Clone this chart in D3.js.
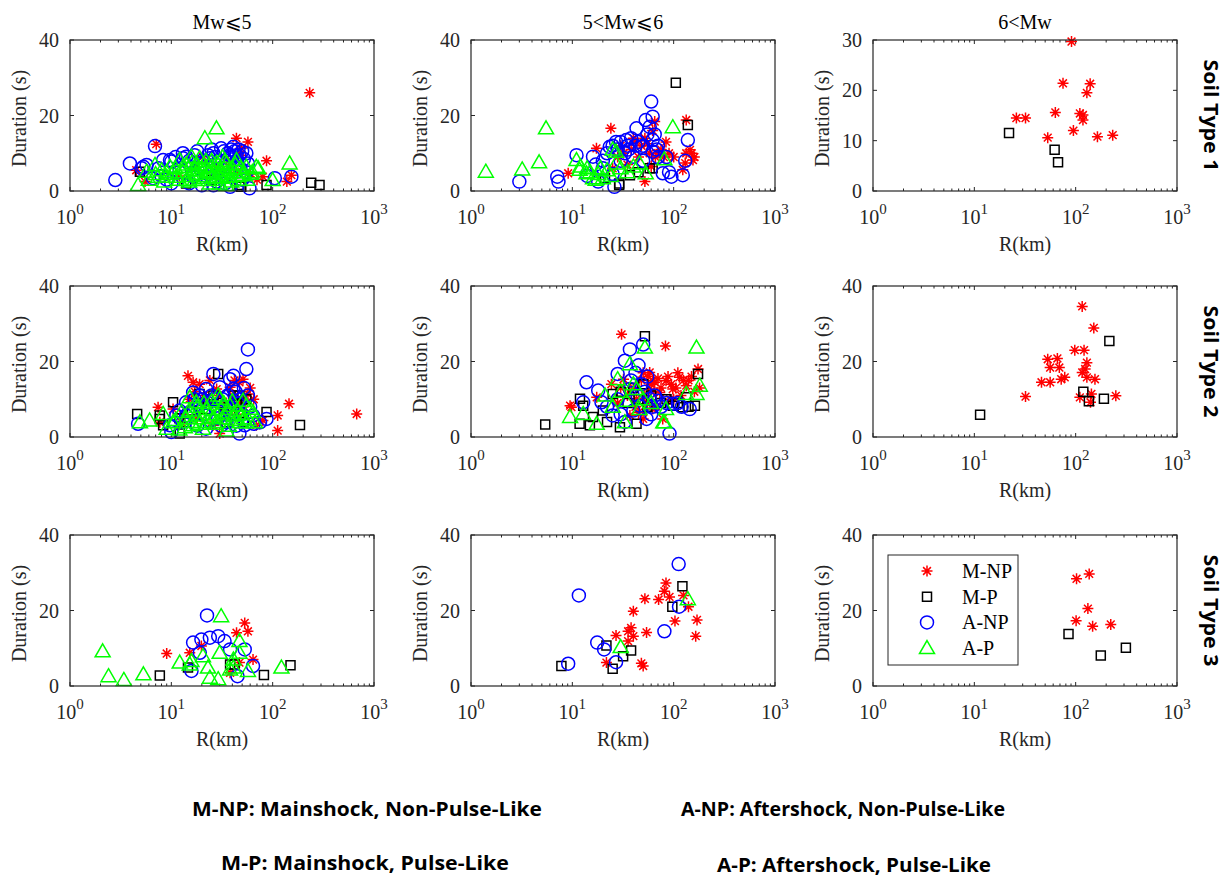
<!DOCTYPE html>
<html>
<head>
<meta charset="utf-8">
<script src="https://cdn.jsdelivr.net/npm/d3@7"></script>
<style>
  body { margin: 0; background: #fff; }
  svg { display: block; }
</style>
</head>
<body>
<svg id="chart" width="1230" height="880"></svg>
<script>
// row / column headings
const soilTypes = ["Soil Type 1", "Soil Type 2", "Soil Type 3"];
const magBins = ["Mw\u2A7D5", "5<Mw\u2A7D6", "6<Mw"];
const seriesNames = ["M-NP", "M-P", "A-NP", "A-P"];
const yMaxes = [[40, 40, 30], [40, 40, 40], [40, 40, 40]];
const xTickExps = [0, 1, 2, 3];
const notes = [
  "M-NP: Mainshock, Non-Pulse-Like", "A-NP: Aftershock, Non-Pulse-Like",
  "M-P: Mainshock, Pulse-Like", "A-P: Aftershock, Pulse-Like"
];

// [R (km), duration (s)]

// Soil type 1
const s1m5_mnp = [[232,26.0],[7.1,12.4],[43.9,14],[57,13],[87,8],[153,4.2],[138,2.5],[4.5,5.5],[47,10.4],[49,11.3],[49,9.5],[80,3.8],[5.5,2.5],[20.5,9.1],[28,6],[35,8.5],[60,4.5],[70,3],[12,4],[17,6.5],[38,7],[44,5]];
const s1m5_mp = [[240,2.2],[290,1.6],[87,1.6],[47,1.6],[4.9,5.1],[49,1.1],[25,3],[14,2]];
const s1m5_anp = [[2.8,2.9],[3.9,7.3],[5.3,6.4],[5.1,6],[5.7,6.9],[6.9,11.9],[8.3,8.2],[9.7,8.2],[10,7.8],[13,8.7],[14,9.1],[26,10],[31,11.3],[41,11.7],[38,9.5],[47,9.5],[55,10],[57,7.3],[59,0.7],[38,1.1],[105,3.4],[153,3.8],[6.6,3.4],[19,6],[24,8.7],[44,5.1],[31,6],[16.4,3.8],[40,9.1],[9,3],[12,5],[22,4],[28,2.5],[50,3],[35,6.5],[45,7],
  [11,9],[13,10],[15,8],[17,9.5],[18,10.5],[20,8],[23,9.5],[25,11],[27,9],[29,8],[33,10.5],[36,10],[39,11],[42,10.5],[44,9.5],[46,11],[50,10.5],[52,8.5],[48,6],[55,5],[34,2],[26,1.5],[20,1.5],[15,2],[10,2],[7.5,6],[8,4]];
const s1m5_ap = [[27.9,16.6],[21.4,14],[147,7.3],[4.7,1.6],[100,2.9],[69,6.4],[6.9,6.9],[9,3.8],[12.1,8.2],[15.8,9.1],[19,8.7],[35,7.3],[44,8.2],[55,6.4],[72,6],[61,4.6],[7.4,3.8],[11.2,3.8],[14,2.9],[17.5,4.6],[20.5,2.9],[26,3.8],[30,2],[38,3.8],[47,2.9],[13,6.4],[22,6.4],[29,6.9],[5.7,5.1],[9.7,6.4],[15,2.5],[35,1.6],[51,4.2],[8,5.5],[11,6],[18,5.5],[24,5],[33,4.5],[40,6],[16,7.5],[25,8],[32,9],
  [10,4.5],[12,3],[13,5],[14,7],[15,4],[16,5.5],[17,3],[18,7],[19,4],[20,6],[21,3.5],[22,8],[23,5],[24,2],[25,6.5],[26,5],[27,3],[28,7.5],[29,4.5],[30,5.5],[31,3.5],[33,6],[34,8],[36,4],[37,5.5],[39,2.5],[42,5],[43,7],[46,4],[48,6],[52,5],[56,3],[63,5],[9,5],[8.5,2.5],[7,4.5],[6,3]];

const s1m6_mnp = [[24,16.6],[17.3,11.3],[9.1,4.7],[65,18.4],[84,13],[52,2.5],[133,18.8],[133,10],[145,10.9],[155,8.2],[130,7.4],[123,5.6],[30,12],[40,14],[45,9],[55,12.5],[60,6.5],[35,7],[70,10],[25,6],
  [28,9],[32,10],[38,11],[42,13],[48,12],[52,14],[58,10],[62,16],[66,9],[75,11],[80,9],[90,10],[100,9],[150,10],[160,9]];
const s1m6_mp = [[105,28.7],[138,17.5],[29,2],[62,6],[37,4.2],[21,3.4],[58,6],[29,1.6],[45,5]];
const s1m6_anp = [[3,2.5],[7.1,3.8],[7.3,2.5],[11,9.5],[16,9.1],[23.4,11.7],[27,13],[34,13.5],[43,16.6],[53,18.8],[60,23.7],[62,19.7],[62,13.5],[62,10.4],[78,4.7],[95,3.8],[26,1.1],[40,9.1],[48,11.7],[138,13.5],[123,4.2],[20,6],[30,8],[14,4],[18,2.5],[25,4.5],[36,11],[50,8],[70,12],
  [22,10],[25,12],[28,11],[30,13],[33,10],[35,12],[38,14],[42,12],[45,13],[50,12],[55,15],[58,17],[65,15],[68,11],[70,9],[85,9],[90,5],[130,8],[20,8],[17,7]];
const s1m6_ap = [[1.4,5.1],[3.2,5.7],[4.7,7.6],[5.5,16.6],[98,16.9],[11,8.2],[27,10.4],[27,7.3],[46,7.3],[53,4.7],[81,8.4],[13.8,4.7],[16,3.4],[20,3.4],[11.8,5.6],[14,6],[18,4.5],[22,5.5],[30,6],
  [12,6.5],[15,5],[17,3],[19,6],[24,4],[25,11],[35,5],[40,6.5]];

const s1m7_mnp = [[91,29.7],[75,21.4],[139,21.3],[129,19.5],[26,14.5],[32,14.5],[63,15.6],[110,15.4],[118,15.1],[118,14.1],[95,12],[53,10.6],[164,10.8],[232,11.1]];
const s1m7_mp = [[22,11.5],[62,8.2],[67,5.7]];

// Soil type 2
const s2m5_mnp = [[14.6,16.2],[16.4,14.5],[7.4,7.9],[145,8.8],[112,5.7],[112,1.7],[51,15.3],[30,0.9],[675,6.1],[19,14],[28,12.7],[38,13.2],[47,14.5],[57,11.4],[47,9.2],[7.7,3.9],[10.4,7.4],[12.6,3.9],[26,3.1],[69,3.1],[80,4.4],[22,9],[33,7],
  [13,6],[15,10],[17,12],[18,5],[21,11],[24,15],[25,9],[29,11],[35,9],[40,11],[42,15],[44,6],[52,8],[60,13],[65,10]];
const s2m5_mp = [[4.6,6.1],[29,16.7],[87,6.6],[12.1,0.9],[7.7,4.8],[186,3.2],[47,11],[7.7,5.7],[10.4,9.2],[19,11.4],[26,11],[41,11],[22,7.4],[14,3.9],[35,3.9],[8.3,3.1],[47,5.7],
  [12,5],[16,7],[18,9],[23,10],[30,9],[33,6],[38,8],[44,9],[52,4],[55,10]];
const s2m5_anp = [[57,23.2],[55,18],[26,16.7],[41,16.2],[38,15.3],[4.7,3.5],[10,1.3],[47,0.9],[57,11],[87,4.8],[75,3.9],[19.1,11],[16.4,11.8],[22,12.7],[30,13.2],[41,12.7],[14,9.2],[19,8.3],[28,7.4],[41,7.4],[14,5.7],[24,4.4],[35,3.9],[11.2,5.7],[9.7,3.1],[22,2.2],[53,3.1],[64,5.7],[32,10],[45,9],
  [12,7],[13,4],[15,6.5],[17,10],[18,3],[20,10],[21,6],[23,9],[25,11],[27,10],[29,5],[31,3],[34,8],[36,11],[39,6],[43,12],[44,3],[48,10],[50,6],[52,13],[60,8],[65,3.5]];
const s2m5_ap = [[4.9,3.9],[6.1,4.4],[8.3,6.1],[15.2,10.5],[29,11],[51,9.6],[55,3.9],[20.5,2.2],[35,1.7],[67,3.9],[12.6,6.6],[10.4,3.9],[9,2.2],[13.6,2.6],[17.6,5.7],[22,7.4],[26,5.3],[31,7.4],[38,8.3],[41,5.7],[47,3.9],[27,3.5],[19,3.5],[16.4,3.1],[64,6.6],[55,8.3],[30,10.1],[17.6,9.2],
  [11,4.5],[12,2],[14,5],[15,7],[16,4],[18,8],[20,5],[21,9],[23,4],[24,6],[25,9.5],[28,6],[29,4],[32,5],[33,9],[36,6.5],[37,3],[40,9.5],[43,4.5],[45,7],[49,6],[52,5],[58,4.5],[60,7.5]];

const s2m6_mnp = [[30.6,27.2],[83,24.1],[9.5,8.3],[9.8,7.9],[24.3,14],[58,17.1],[58,12.7],[62,7.4],[84,14.9],[114,15.8],[174,18],[50,4.8],[78,4.8],[73,11.8],[98,12.7],[133,13.6],[37,5.7],[43,10.1],[32,15.3],[17.4,10.5],[65,14.5],[100,10],[150,16],[45,6.5],[55,9],
  [40,13],[48,15],[52,11],[56,16],[60,14],[64,12],[68,8],[70,15.5],[75,13],[88,16],[92,10],[95,14],[105,13],[110,17],[118,11],[125,15],[140,15],[160,12],[180,13],[35,11],[28,9],[30,13],[42,8],[50,17],[62,15]];
const s2m6_mp = [[5.4,3.3],[52,26.7],[11.9,10.1],[12.8,8.3],[16,5.3],[14.9,3.1],[11.8,3.5],[29.5,2.6],[25,11.4],[50,14],[43,3.5],[98,8.3],[123,7.9],[162,8.3],[174,16.7],[133,10.5],[35,9],
  [30,12],[40,13],[45,10],[55,8],[60,11],[75,9],[85,10],[110,9],[140,8],[20,7],[22,4]];
const s2m6_anp = [[91,0.9],[13.8,14.5],[37,23.2],[50,24.5],[33,20.2],[18,12.3],[19.4,9.2],[25,5.7],[28,16.7],[58,10.1],[70,9.6],[98,8.8],[144,7.4],[37,12.7],[46,8.3],[54,4.8],[12.8,9.2],[45,19],[40,7],[60,6],
  [38,15],[42,17],[44,11],[48,14],[52,12],[55,16],[62,8],[65,11],[75,8],[85,9],[110,9],[120,8],[30,6],[33,4],[28,10],[22,8]];
const s2m6_ap = [[9.5,5.3],[52,23.7],[79,3.9],[168,23.7],[37,19.3],[28,15.3],[43,12.7],[34,9.6],[46,7.4],[81,3.9],[84,7.4],[12.8,6.1],[17.4,3.5],[21,11],[181,13.6],[168,11.4],[133,11.4],[33,3.9],
  [30,12],[40,14],[50,10],[25,8],[60,9]];

const s2m7_mnp = [[116,34.6],[151,28.9],[98,23],[121,23],[53,20.6],[66,20.8],[56,18.4],[69,18.4],[78,15.8],[72,15.3],[46,14.5],[56,14.5],[32,10.7],[129,19.7],[124,18],[116,17.1],[129,15.8],[155,15.3],[110,10.5],[143,11.4],[249,10.9],[140,9.2]];
const s2m7_mp = [[11.4,5.9],[215,25.4],[119,12],[135,9.5],[190,10.1]];

// Soil type 3
const s3m5_mnp = [[9,8.6],[53,16.7],[57,14.5],[44,14.1],[15.2,8.8],[19.8,10.6],[64,7],[38,3.5],[47,6.2]];
const s3m5_mp = [[7.7,2.8],[82,2.9],[150,5.5],[14.6,4.9],[38,5.7],[42,5.7]];
const s3m5_anp = [[22.5,18.7],[16.4,11.5],[19.8,12.3],[24,12.8],[29,13.2],[33.5,11.9],[38,9.7],[53,9.7],[15.8,4],[45,2.6],[64,5.3],[19.1,8.8]];
const s3m5_ap = [[2.1,9.2],[2.4,2.6],[3.4,1.6],[5.3,3.1],[31,18.5],[12.1,6.2],[15.8,6.6],[23,4.9],[24,2.2],[29,1.8],[30,8.8],[47,11.9],[41,7],[41,4.9],[57,4],[122,4.9],[15.2,5.7],[20.5,7.9],[47,8.8],[38,4.4]];

const s3m6_mnp = [[84,27.3],[81,25.1],[52,23.1],[71,22.9],[91,23.6],[40,19.8],[103,17.2],[27,13.4],[35.5,14.5],[38,15.4],[40,13.2],[35.5,11.9],[54,14.2],[21.7,6.2],[48,6],[50,5.3],[140,21],[170,17.5],[165,13.2],[125,24]];
const s3m6_mp = [[7.8,5.3],[21.7,10.7],[25,4.6],[31.7,7.9],[38,9.4],[97,21],[122,26.4]];
const s3m6_anp = [[9.1,5.9],[11.6,24],[17.6,11.5],[20.6,9.7],[27,6.3],[81,14.5],[112,32.3],[113,21]];
const s3m6_ap = [[30,10.3],[138,23]];

const s3m7_mnp = [[102,28.4],[136,29.7],[132,20.5],[101,17.3],[147,15.8],[222,16.3]];
const s3m7_mp = [[85,13.8],[177,8.1],[313,10.1]];

// one row per panel: which arrays go where
const panels = [
  { row: 0, col: 0, series: [s1m5_mnp, s1m5_mp, s1m5_anp, s1m5_ap] },
  { row: 0, col: 1, series: [s1m6_mnp, s1m6_mp, s1m6_anp, s1m6_ap] },
  { row: 0, col: 2, series: [s1m7_mnp, s1m7_mp, [], []] },
  { row: 1, col: 0, series: [s2m5_mnp, s2m5_mp, s2m5_anp, s2m5_ap] },
  { row: 1, col: 1, series: [s2m6_mnp, s2m6_mp, s2m6_anp, s2m6_ap] },
  { row: 1, col: 2, series: [s2m7_mnp, s2m7_mp, [], []] },
  { row: 2, col: 0, series: [s3m5_mnp, s3m5_mp, s3m5_anp, s3m5_ap] },
  { row: 2, col: 1, series: [s3m6_mnp, s3m6_mp, s3m6_anp, s3m6_ap] },
  { row: 2, col: 2, series: [s3m7_mnp, s3m7_mp, [], []] }
];

// layout
const colLeft = [70, 471, 873];
const rowTop = [40, 286, 535];
const pw = 304, ph = 151;
const axisColor = "#262626";
const serif = "'Liberation Serif', 'Times New Roman', serif";
const sans = "'Open Sans', 'Noto Sans', sans-serif";

// marker styles per series
const markers = [
  { color: "#ff0000", path: "M-5.5,0H5.5M0,-5.5V5.5M-3.9,-3.9L3.9,3.9M-3.9,3.9L3.9,-3.9" },
  { color: "#000000", path: "M-4.5,-4.5h9v9h-9z" },
  { color: "#0000ff", path: d3.arc()({ innerRadius: 0, outerRadius: 6.5, startAngle: 0, endAngle: 2 * Math.PI }) },
  { color: "#00ff00", path: "M0,-7.5L7.5,5.5H-7.5Z" }
];

const svg = d3.select("#chart");

function drawPanel(p) {
  let g = svg.append("g")
    .attr("transform", `translate(${colLeft[p.col]},${rowTop[p.row]})`);

  let yMax = yMaxes[p.row][p.col];
  let x = d3.scaleLog().domain([1, 1000]).range([0, pw]);
  let y = d3.scaleLinear().domain([0, yMax]).range([ph, 0]);

  // minor + major log ticks, pointing inward on bottom and top
  let minor = [];
  for (let e = 0; e < 3; e++) {
    for (let m = 2; m <= 9; m++) minor.push(m * Math.pow(10, e));
  }
  let major = xTickExps.map((e) => Math.pow(10, e));
  let yTicks = d3.range(0, yMax + 1, yMax === 30 ? 10 : 20);

  let ticks = g.append("g").attr("stroke", axisColor).attr("stroke-width", 1);
  minor.forEach((v) => {
    ticks.append("line").attr("x1", x(v)).attr("x2", x(v)).attr("y1", ph).attr("y2", ph - 2.5);
    ticks.append("line").attr("x1", x(v)).attr("x2", x(v)).attr("y1", 0).attr("y2", 2.5);
  });
  major.forEach((v) => {
    ticks.append("line").attr("x1", x(v)).attr("x2", x(v)).attr("y1", ph).attr("y2", ph - 4);
    ticks.append("line").attr("x1", x(v)).attr("x2", x(v)).attr("y1", 0).attr("y2", 4);
  });
  yTicks.forEach((v) => {
    ticks.append("line").attr("x1", 0).attr("x2", 4).attr("y1", y(v)).attr("y2", y(v));
    ticks.append("line").attr("x1", pw).attr("x2", pw - 4).attr("y1", y(v)).attr("y2", y(v));
  });

  // markers, in plotting order so green ends on top
  p.series.forEach((pts, i) => {
    let mk = markers[i];
    g.append("g")
      .selectAll("path")
      .data(pts)
      .join("path")
      .attr("d", mk.path)
      .attr("transform", (d) => `translate(${x(d[0])},${y(d[1])})`)
      .attr("fill", "none")
      .attr("stroke", mk.color)
      .attr("stroke-width", 1.5);
  });

  // box
  g.append("rect")
    .attr("width", pw).attr("height", ph)
    .attr("fill", "none").attr("stroke", axisColor).attr("stroke-width", 1.2);

  // x tick labels 10^k
  major.forEach((v, i) => {
    let t = g.append("text")
      .attr("x", x(v)).attr("y", ph + 33)
      .attr("text-anchor", "middle")
      .attr("font-family", serif).attr("font-size", 20).attr("fill", axisColor);
    t.append("tspan").text("10");
    t.append("tspan").attr("dy", -10).attr("font-size", 15).text(xTickExps[i]);
  });

  // y tick labels
  yTicks.forEach((v) => {
    g.append("text")
      .attr("x", -11).attr("y", y(v) + 7)
      .attr("text-anchor", "end")
      .attr("font-family", serif).attr("font-size", 20).attr("fill", axisColor)
      .text(v);
  });

  g.append("text")
    .attr("x", pw / 2).attr("y", ph + 60)
    .attr("text-anchor", "middle")
    .attr("font-family", serif).attr("font-size", 20).attr("fill", axisColor)
    .text("R(km)");

  g.append("text")
    .attr("transform", `translate(-44,${ph / 2 + 3}) rotate(-90)`)
    .attr("text-anchor", "middle")
    .attr("font-family", serif).attr("font-size", 20).attr("fill", axisColor)
    .text("Duration (s)");
}

panels.forEach(drawPanel);

// column titles
magBins.forEach((t, c) => {
  svg.append("text")
    .attr("x", colLeft[c] + pw / 2).attr("y", 29)
    .attr("text-anchor", "middle")
    .attr("font-family", serif).attr("font-size", 20).attr("fill", "#000")
    .text(t);
});

// soil type labels on the right
soilTypes.forEach((t, r) => {
  svg.append("text")
    .attr("transform", `translate(1204,${rowTop[r] + ph / 2}) rotate(90)`)
    .attr("text-anchor", "middle")
    .attr("font-family", sans).attr("font-weight", "bold").attr("font-size", 19)
    .attr("textLength", 112).attr("lengthAdjust", "spacingAndGlyphs")
    .attr("fill", "#000")
    .text(t);
});

// legend in the last panel
let lg = svg.append("g").attr("transform", "translate(888,555)");
lg.append("rect").attr("width", 130).attr("height", 110)
  .attr("fill", "#fff").attr("stroke", axisColor).attr("stroke-width", 1);
seriesNames.forEach((name, i) => {
  let yy = 16 + i * 25.7;
  lg.append("path")
    .attr("d", markers[i].path)
    .attr("transform", `translate(39,${yy})`)
    .attr("fill", "none").attr("stroke", markers[i].color).attr("stroke-width", 1.5);
  lg.append("text")
    .attr("x", 74).attr("y", yy + 7)
    .attr("font-family", serif).attr("font-size", 20).attr("fill", "#000")
    .text(name);
});

// notes at the bottom
const noteSpots = [[367, 816, 350], [843, 816, 324], [365, 870, 288], [854, 872, 274]];
notes.forEach((t, i) => {
  svg.append("text")
    .attr("x", noteSpots[i][0]).attr("y", noteSpots[i][1])
    .attr("text-anchor", "middle")
    .attr("font-family", sans).attr("font-weight", "bold").attr("font-size", 19)
    .attr("textLength", noteSpots[i][2]).attr("lengthAdjust", "spacingAndGlyphs")
    .attr("fill", "#000")
    .text(t);
});
</script>
</body>
</html>
